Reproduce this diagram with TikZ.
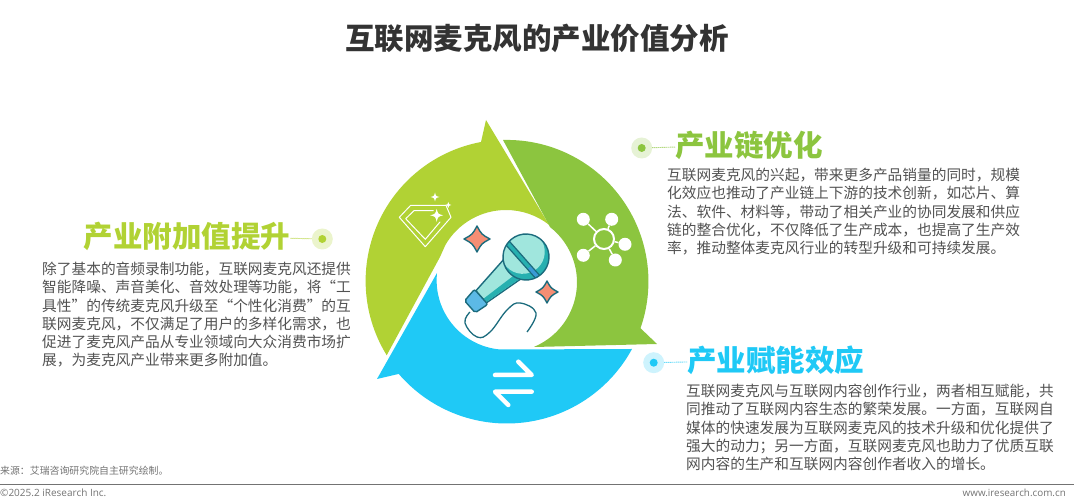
\documentclass[tikz,border=0pt]{standalone}
\usepackage{fontspec}
\usetikzlibrary{calc}
\setmainfont{Noto Sans CJK SC}
\newfontfamily\footfont{Open Sans}
\definecolor{olivec}{HTML}{B1D234}
\definecolor{greenc}{HTML}{8CC53F}
\definecolor{bluec}{HTML}{1FC9F6}
\definecolor{micline}{HTML}{1B6B7D}
\definecolor{spark}{HTML}{F58E74}
\definecolor{miclight}{HTML}{A0E6DD}
\definecolor{micdark}{HTML}{27B0B0}
\definecolor{micband}{HTML}{3B9AD6}
\definecolor{miccollar}{HTML}{5CB9E6}
\tikzset{
  headline/.style={inner sep=0pt,anchor=west,font=\fontsize{29.5}{32}\selectfont\bfseries},
  bodytext/.style={inner sep=0pt,anchor=north west,align=left,text=black!68,font=\fontsize{14.7}{18.2}\selectfont},
  halo/.style={circle,inner sep=0pt,minimum size=21pt},
  dot/.style={circle,inner sep=0pt,minimum size=8pt},
  link/.style={dash pattern=on 1pt off 1pt,line width=0.9pt},
  whiteline/.style={white,line cap=round,line join=round},
}
\begin{document}
\begin{tikzpicture}[x=1pt,y=1pt]
  \useasboundingbox (0,0) rectangle (1080,500);
  \node[font=\fontsize{29.5}{32}\selectfont\bfseries,text=black!80,inner sep=0pt] (title) at (537,462) {互联网麦克风的产业价值分析};

  % ring
  \coordinate (c) at (507,219);
  \coordinate (h) at (506,220);
  \fill[olivec] (486,380) -- (481,358) arc[start angle=100.6,end angle=211.7,radius=141.4]
    -- (440,243) -- ($(h)+(150:70)$) arc[start angle=150,end angle=52,radius=70] -- cycle;
  \fill[greenc] (503,360) arc[start angle=91.6,end angle=-19.3,radius=141.5]
    -- (657,156) -- (534,153) -- ($(h)+(-67:72.5)$) arc[start angle=-67,end angle=52,radius=70] -- cycle;
  \fill[bluec] (377,121) -- (437,227) arc[start angle=174,end angle=265,radius=69.5]
    -- (632,151) arc[start angle=-28.5,end angle=-139.3,radius=142.5] -- cycle;

  % diamond
  \draw[whiteline,line width=1pt] (399.3,282.7) -- (410.7,294.7) -- (446,294.7) -- (451,282.7) -- (425.3,253.3) -- cycle;
  \draw[whiteline,line width=1pt] (433.3,289.3) -- (414,289.3) -- (405.7,281.3) -- (425.3,260.7) -- (440,278);
  \foreach \x/\y/\r in {435/303/4.5,448.3/295/3,436.7/284.7/6.5} {
    \fill[white] (\x+\r,\y) .. controls (\x+.2*\r,\y+.2*\r) .. (\x,\y+\r)
      .. controls (\x-.2*\r,\y+.2*\r) .. (\x-\r,\y) .. controls (\x-.2*\r,\y-.2*\r) .. (\x,\y-\r)
      .. controls (\x+.2*\r,\y-.2*\r) .. cycle;
  }

  % network
  \node[circle,draw=white,line width=2pt,minimum size=20pt,inner sep=0pt] (hub) at (604,261) {};
  \foreach \x/\y [count=\i] in {583.3/280.7,611.7/280.7,625/255.7,615.3/240,583.3/244.7} {
    \node[circle,fill=white,minimum size=13pt,inner sep=0pt] (sat\i) at (\x,\y) {};
    \draw[white,line width=1.5pt] (hub) -- (sat\i);
  }

  % arrows
  \draw[whiteline,line width=4.5pt] (495,125) -- (531.7,125) -- (518.3,138.3);
  \draw[whiteline,line width=4.5pt] (531.7,108.3) -- (495,108.3) -- (508.3,95);

  % sparkles
  \foreach \x/\y/\r in {477/261/13,547/208/11} {
    \draw[fill=spark,draw=micline,line width=1.4pt,line join=round] (\x+\r,\y) .. controls (\x+.35*\r,\y+.35*\r) .. (\x,\y+\r)
      .. controls (\x-.35*\r,\y+.35*\r) .. (\x-\r,\y) .. controls (\x-.35*\r,\y-.35*\r) .. (\x,\y-\r)
      .. controls (\x+.35*\r,\y-.35*\r) .. cycle;
  }

  % microphone
  \draw[micline,line width=1.3pt] plot[smooth,tension=0.7] coordinates {(470,188) (465,177) (477,163) (490,168) (507,190) (520,197) (536,187) (527,168)};
  \begin{scope}[shift={(526,243)},rotate=41.6]
    \draw[fill=miclight,draw=micline,line width=1.4pt,line join=round] (-18,13) -- (-60,8) -- (-60,-8) -- (-18,-13) -- cycle;
    \fill[micdark] (-18,-12.3) -- (-59.3,-7.3) -- (-59.3,-3) -- (-18,-6) -- cycle;
    \draw[fill=miccollar,draw=micline,line width=1.4pt,rounded corners=2pt] (-60,10) -- (-75,8) -- (-75,-8) -- (-60,-10) -- cycle;
    \fill[micdark] (0,0) circle (23);
    \begin{scope}
      \clip (0,0) circle (23);
      \fill[miclight] (1,6) circle (22);
      \fill[micdark] (-7,-30) rectangle (-2,30);
      \fill[micband] (-7,-30) rectangle (-2,-10);
      \draw[micline,line width=1.2pt] (-7,-30) -- (-7,30) (-2,-30) -- (-2,30);
    \end{scope}
    \draw[micline,line width=1.4pt] (0,0) circle (23);
  \end{scope}

  % olive label
  \node[headline,anchor=east,text=olivec] (addhead) at (290.5,264) {产业附加值提升};
  \node[halo,fill=olivec!25] (addhalo) at (322.3,261) {};
  \node[dot,fill=olivec] (adddot) at (322.3,261) {};
  \draw[link,olivec] (addhead) -- (addhalo);
  \node[bodytext] (addbody) at (42,238) {除了基本的音频录制功能，互联网麦克风还提供\\智能降噪、声音美化、音效处理等功能，将“工\\具性”的传统麦克风升级至“个性化消费”的互\\联网麦克风，不仅满足了用户的多样化需求，也\\促进了麦克风产品从专业领域向大众消费市场扩\\展，为麦克风产业带来更多附加值。};

  % green label
  \node[headline,text=greenc] (chainhead) at (675,355) {产业链优化};
  \node[halo,fill=greenc!22] (chainhalo) at (641.7,352) {};
  \node[dot,fill=greenc] (chaindot) at (641.7,352) {};
  \draw[link,greenc] (chainhalo) -- (chainhead);
  \node[bodytext] (chainbody) at (667,332) {互联网麦克风的兴起，带来更多产品销量的同时，规模\\化效应也推动了产业链上下游的技术创新，如芯片、算\\法、软件、材料等，带动了相关产业的协同发展和供应\\链的整合优化，不仅降低了生产成本，也提高了生产效\\率，推动整体麦克风行业的转型升级和可持续发展。};

  % blue label
  \node[headline,text=bluec] (powerhead) at (687,140) {产业赋能效应};
  \node[halo,fill=bluec!22] (powerhalo) at (653.7,137.3) {};
  \node[dot,fill=bluec] (powerdot) at (653.7,137.3) {};
  \draw[link,bluec] (powerhalo) -- (powerhead);
  \node[bodytext] (powerbody) at (686,116) {互联网麦克风与互联网内容创作行业，两者相互赋能，共\\同推动了互联网内容生态的繁荣发展。一方面，互联网自\\媒体的快速发展为互联网麦克风的技术升级和优化提供了\\强大的动力；另一方面，互联网麦克风也助力了优质互联\\网内容的生产和互联网内容创作者收入的增长。};

  % footer
  \node[inner sep=0pt,anchor=west,text=black!55,font=\fontsize{9.9}{12}\selectfont] (source) at (0,29) {来源：艾瑞咨询研究院自主研究绘制。};
  \coordinate (ruleL) at (0,16);
  \coordinate (ruleR) at (1074,16);
  \draw[black!55,line width=0.8pt] (ruleL) -- (ruleR);
  \node[inner sep=0pt,anchor=west,text=black!55,font=\footfont\fontsize{10}{12}\selectfont] (copyright) at (0,7) {©2025.2 iResearch Inc.};
  \node[inner sep=0pt,anchor=east,text=black!55,font=\footfont\fontsize{9.85}{12}\selectfont] (website) at (1066,7) {www.iresearch.com.cn};
\end{tikzpicture}
\end{document}
